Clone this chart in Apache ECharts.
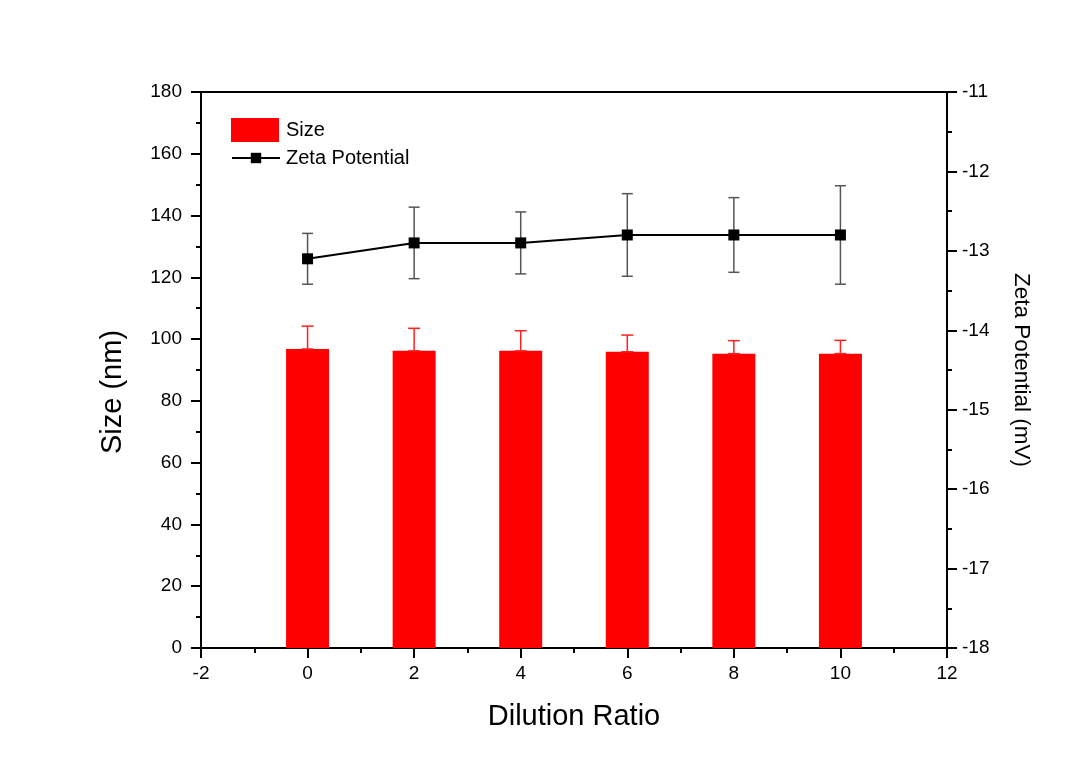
<!DOCTYPE html>
<html>
<head>
<meta charset="utf-8">
<script src="https://cdn.jsdelivr.net/npm/echarts@6/dist/echarts.min.js"></script>
<style>html,body{margin:0;padding:0;background:#fff}#c{width:1087px;height:767px}</style>
</head>
<body>
<div id="c"></div>
<script>
const dilution = [0, 2, 4, 6, 8, 10];
const sizeValues = [96.8, 96.2, 96.2, 95.9, 95.3, 95.3];
const sizeErrors = [7.4, 7.3, 6.5, 5.4, 4.2, 4.3];
const zetaValues = [-13.1, -12.9, -12.9, -12.8, -12.8, -12.8];
const zetaErrors = [0.32, 0.45, 0.39, 0.52, 0.47, 0.62];

const FONT = 'Liberation Sans, Arial, sans-serif';
const chart = echarts.init(document.getElementById('c'));

function errRender(color, capHalf) {
  return function (params, api) {
    const x = api.value(0), lo = api.value(1), hi = api.value(2);
    const pHi = api.coord([x, hi]);
    const pLo = api.coord([x, lo]);
    const st = { stroke: color, lineWidth: 1.5 };
    return {
      type: 'group',
      children: [
        { type: 'line', shape: { x1: pHi[0], y1: pHi[1], x2: pLo[0], y2: pLo[1] }, style: st },
        { type: 'line', shape: { x1: pHi[0] - capHalf, y1: pHi[1], x2: pHi[0] + capHalf, y2: pHi[1] }, style: st },
        { type: 'line', shape: { x1: pLo[0] - capHalf, y1: pLo[1], x2: pLo[0] + capHalf, y2: pLo[1] }, style: st }
      ]
    };
  };
}

const axisCommon = {
  axisLine: { show: true, onZero: false, lineStyle: { color: '#000', width: 2 } },
  axisTick: { show: true, inside: false, length: 10, lineStyle: { color: '#000', width: 2 } },
  minorTick: { show: true, splitNumber: 2, length: 5, lineStyle: { color: '#000', width: 2 } },
  splitLine: { show: false },
  axisLabel: { color: '#000', fontSize: 19, fontFamily: FONT },
  nameLocation: 'middle'
};

chart.setOption({
  backgroundColor: '#fff',
  animation: false,
  grid: { left: 201, right: 140, top: 92, bottom: 119, show: true, borderColor: '#000', borderWidth: 2 },
  legend: [
    { left: 226, top: 113, itemWidth: 48, itemHeight: 24,
      data: [{ name: 'Size', icon: 'rect' }],
      textStyle: { color: '#000', fontSize: 20, fontFamily: FONT, padding: [0, 0, 0, 2] } },
    { left: 226, top: 143, itemWidth: 48, itemHeight: 13,
      data: ['Zeta Potential'],
      textStyle: { color: '#000', fontSize: 20, fontFamily: FONT, padding: [0, 0, 0, 1] } }
  ],
  xAxis: Object.assign({}, axisCommon, {
    type: 'value', min: -2, max: 12, interval: 2,
    name: 'Dilution Ratio', nameGap: 54,
    nameTextStyle: { color: '#000', fontSize: 29, fontFamily: FONT },
    axisLabel: Object.assign({}, axisCommon.axisLabel, { margin: 16 })
  }),
  yAxis: [
    Object.assign({}, axisCommon, {
      type: 'value', min: 0, max: 180, interval: 20, position: 'left',
      name: 'Size (nm)', nameGap: 74, nameRotate: 90,
      nameTextStyle: { color: '#000', fontSize: 29, fontFamily: FONT, padding: [0, 44, 0, 0] },
      axisLabel: Object.assign({}, axisCommon.axisLabel, { margin: 19 })
    }),
    Object.assign({}, axisCommon, {
      type: 'value', min: -18, max: -11, interval: 1, position: 'right',
      name: 'Zeta Potential (mV)', nameGap: 63, nameRotate: -90,
      nameTextStyle: { color: '#000', fontSize: 22.5, fontFamily: FONT },
      axisLabel: Object.assign({}, axisCommon.axisLabel, { margin: 15 })
    })
  ],
  series: [
    {
      name: 'Size', type: 'bar', yAxisIndex: 0, barWidth: 43,
      itemStyle: { color: '#ff0000' },
      data: dilution.map((x, i) => [x, sizeValues[i]])
    },
    {
      name: 'sizeErr', type: 'custom', yAxisIndex: 0,
      renderItem: errRender('#ff2020', 6),
      data: dilution.map((x, i) => [x, sizeValues[i], sizeValues[i] + sizeErrors[i]]),
      z: 3
    },
    {
      name: 'zetaErr', type: 'custom', yAxisIndex: 1,
      renderItem: errRender('#555', 5.5),
      data: dilution.map((x, i) => [x, zetaValues[i] - zetaErrors[i], zetaValues[i] + zetaErrors[i]]),
      z: 3
    },
    {
      name: 'Zeta Potential', type: 'line', yAxisIndex: 1,
      symbol: 'rect', symbolSize: 11,
      lineStyle: { color: '#000', width: 2 },
      itemStyle: { color: '#000' },
      data: dilution.map((x, i) => [x, zetaValues[i]]),
      z: 4
    }
  ]
});
</script>
</body>
</html>
